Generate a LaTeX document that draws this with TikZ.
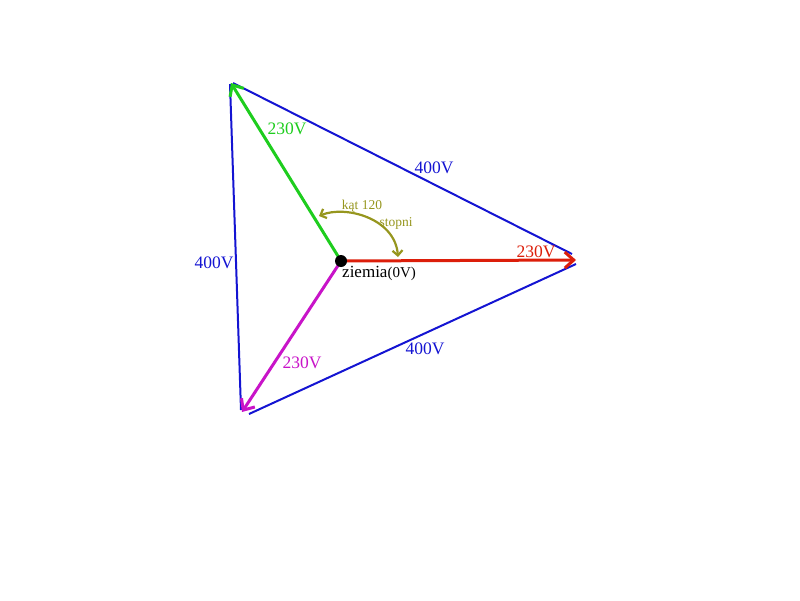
\documentclass[tikz,border=0pt]{standalone}
\usepackage{fontspec}
\setmainfont{Liberation Serif}
\usetikzlibrary{arrows.meta}
\definecolor{vblue}{RGB}{20,20,210}
\definecolor{vgreen}{RGB}{30,205,30}
\definecolor{vred}{RGB}{220,30,10}
\definecolor{vmag}{RGB}{200,20,200}
\definecolor{volive}{RGB}{150,150,30}
\tikzset{
  phase/.style={line width=3pt,-{Straight Barb[length=9pt,width=16pt,line width=3pt]}},
  lineside/.style={vblue,line width=2pt},
  lbl/.style={font=\fontsize{17.5}{20}\selectfont,inner sep=0pt},
  small/.style={font=\fontsize{13.5}{15}\selectfont,inner sep=0pt,text=volive}
}
\begin{document}
\begin{tikzpicture}[x=1pt,y=-1pt]
\useasboundingbox (0,0) rectangle (800,600);
% points
\coordinate (O) at (341,261);
\coordinate (R) at (576,260);
\coordinate (G) at (231,83);
\coordinate (M) at (242,412);
\coordinate (b1) at (233,83);
\coordinate (b2) at (572,254);
\coordinate (b3) at (230,84);
\coordinate (b4) at (241,410);
\coordinate (b5) at (249,414);
\coordinate (b6) at (576,264);
% blue line-to-line sides
\draw[lineside] (b1) -- (b2);
\draw[lineside] (b3) -- (b4);
\draw[lineside] (b5) -- (b6);
% phase vectors
\draw[phase,vgreen] (O) -- (G);
\draw[phase,vred] (O) -- (R);
\draw[phase,vmag] (O) -- (M);
% ground dot
\node[circle,fill=black,minimum size=12pt,inner sep=0pt] (dot) at (O) {};
% angle arrow
\coordinate (a1) at (319,216);
\coordinate (a2) at (398,257);
\draw[volive,line width=2.2pt,{Straight Barb[length=5pt,width=10pt]}-{Straight Barb[length=5pt,width=10pt]}]
  (a1) .. controls (345,205) and (395,218) .. (a2);
% labels
\node[lbl,text=vgreen] (lg) at (287,129) {230V};
\node[lbl,text=vblue] (l1) at (434,168) {400V};
\node[lbl,text=vblue] (l2) at (214,263) {400V};
\node[lbl,text=vred] (lr) at (536,252) {230V};
\node[lbl,text=vmag] (lm) at (302,363) {230V};
\node[lbl,text=vblue] (l3) at (425,349) {400V};
\node[small] (k1) at (362,206) {kąt 120};
\node[small] (k2) at (396,223) {stopni};
\node[inner sep=0pt,anchor=west] (z) at (342,273) {\fontsize{17}{19}\selectfont ziemia\fontsize{15}{17}\selectfont(0V)};
\end{tikzpicture}
\end{document}
